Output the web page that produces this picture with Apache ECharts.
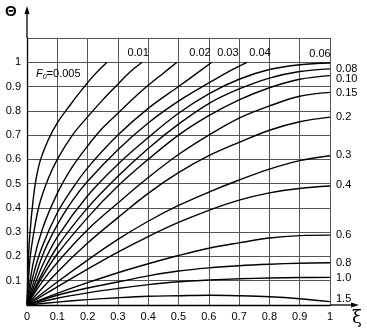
<!DOCTYPE html>
<html><head><meta charset="utf-8">
<script src="https://cdn.jsdelivr.net/npm/echarts@6/dist/echarts.min.js"></script>
<style>html,body{margin:0;padding:0;background:#fff}#c{width:367px;height:329px}</style>
</head><body><div id="c"></div>
<script>
// Tick values
const xTicks = [0, 0.1, 0.2, 0.3, 0.4, 0.5, 0.6, 0.7, 0.8, 0.9, 1];
const yTicks = [0.1, 0.2, 0.3, 0.4, 0.5, 0.6, 0.7, 0.8, 0.9, 1];

// Curve names (Fourier number F0)
const f0Names = ['0.005','0.01','0.02','0.03','0.04','0.06','0.08','0.10','0.15','0.2','0.3','0.4','0.6','0.8','1.0','1.5'];

// Curves: [xi, Theta]
const c0005 = [[0,0],[0.005,0.2],[0.01,0.3],[0.02,0.43],[0.03,0.52],[0.045,0.6],[0.07,0.68],[0.1,0.75],[0.14,0.82],[0.18,0.885],[0.22,0.945],[0.264,1]];
const c001 = [[0,0],[0.01,0.19],[0.02,0.28],[0.04,0.41],[0.07,0.52],[0.1,0.6],[0.15,0.7],[0.2,0.775],[0.25,0.845],[0.3,0.91],[0.34,0.96],[0.38,1]];
const c002 = [[0,0],[0.02,0.17],[0.05,0.31],[0.1,0.46],[0.15,0.57],[0.2,0.655],[0.25,0.73],[0.3,0.79],[0.35,0.85],[0.4,0.905],[0.45,0.955],[0.495,1]];
const c003 = [[0,0],[0.02,0.12],[0.05,0.24],[0.1,0.38],[0.15,0.48],[0.2,0.565],[0.3,0.7],[0.4,0.81],[0.5,0.9],[0.55,0.945],[0.61,1]];
const c004 = [[0,0],[0.05,0.2],[0.1,0.33],[0.15,0.43],[0.2,0.51],[0.3,0.64],[0.4,0.75],[0.5,0.84],[0.6,0.915],[0.67,0.965],[0.726,1]];
const c006 = [[0,0],[0.05,0.16],[0.1,0.28],[0.2,0.45],[0.3,0.58],[0.4,0.69],[0.5,0.79],[0.6,0.87],[0.7,0.93],[0.8,0.97],[0.9,0.99],[1,0.997]];
const c008 = [[0,0],[0.05,0.13],[0.1,0.24],[0.2,0.4],[0.3,0.53],[0.4,0.645],[0.5,0.745],[0.6,0.83],[0.7,0.89],[0.8,0.935],[0.9,0.962],[1,0.973]];
const c010 = [[0,0],[0.05,0.115],[0.1,0.21],[0.2,0.36],[0.3,0.49],[0.4,0.6],[0.5,0.7],[0.6,0.78],[0.7,0.845],[0.8,0.895],[0.9,0.93],[1,0.945]];
const c015 = [[0,0],[0.05,0.095],[0.1,0.175],[0.2,0.31],[0.3,0.42],[0.4,0.525],[0.5,0.62],[0.6,0.7],[0.7,0.77],[0.8,0.82],[0.9,0.86],[1,0.876]];
const c020 = [[0,0],[0.1,0.135],[0.2,0.255],[0.3,0.36],[0.4,0.46],[0.5,0.545],[0.6,0.615],[0.7,0.67],[0.8,0.72],[0.9,0.755],[1,0.774]];
const c030 = [[0,0],[0.1,0.095],[0.2,0.185],[0.3,0.27],[0.4,0.345],[0.5,0.41],[0.6,0.465],[0.7,0.515],[0.8,0.56],[0.9,0.595],[1,0.615]];
const c040 = [[0,0],[0.1,0.075],[0.2,0.148],[0.3,0.218],[0.4,0.282],[0.5,0.34],[0.6,0.39],[0.7,0.432],[0.8,0.462],[0.9,0.48],[1,0.49]];
const c060 = [[0,0],[0.1,0.048],[0.2,0.092],[0.3,0.133],[0.4,0.17],[0.5,0.204],[0.6,0.234],[0.7,0.256],[0.8,0.276],[0.9,0.286],[1,0.288]];
const c080 = [[0,0],[0.1,0.04],[0.2,0.07],[0.3,0.095],[0.4,0.12],[0.5,0.14],[0.6,0.153],[0.7,0.162],[0.8,0.168],[0.9,0.172],[1,0.174]];
const c100 = [[0,0],[0.1,0.028],[0.2,0.05],[0.3,0.068],[0.4,0.084],[0.5,0.096],[0.6,0.103],[0.7,0.108],[0.8,0.111],[0.9,0.113],[1,0.114]];
const c150 = [[0,0],[0.1,0.012],[0.2,0.022],[0.3,0.03],[0.4,0.036],[0.5,0.038],[0.6,0.04],[0.7,0.038],[0.8,0.034],[0.9,0.026],[1,0.014]];

const curves = [c0005,c001,c002,c003,c004,c006,c008,c010,c015,c020,c030,c040,c060,c080,c100,c150];

const FONT = 'Liberation Sans';
// label placement per curve (style, not data)
const labelStyle = [
  {align:'left', offset:[-79,12], rich:true},
  {align:'center', offset:[-12,-9]},
  {align:'center', offset:[15,-9]},
  {align:'center', offset:[8,-9]},
  {align:'center', offset:[5,-9]},
  {align:'center', offset:[-18,-9]},
  {align:'left', offset:[-2,0]},
  {align:'left', offset:[-2,3]},
  {align:'left', offset:[-2,1]},
  {align:'left', offset:[-2,0]},
  {align:'left', offset:[-2,-1]},
  {align:'left', offset:[-2,-1]},
  {align:'left', offset:[-2,0]},
  {align:'left', offset:[-2,0]},
  {align:'left', offset:[-2,1]},
  {align:'left', offset:[-2,-3]}
];

const series = curves.map((d, i) => {
  const ls = labelStyle[i];
  return {
    name: f0Names[i],
    type: 'line',
    data: d,
    smooth: 0.35,
    showSymbol: false,
    symbol: 'none',
    lineStyle: {color: '#000', width: 1.4},
    silent: true,
    endLabel: {
      show: true,
      color: '#000',
      fontFamily: FONT,
      fontSize: 11,
      align: ls.align,
      verticalAlign: 'middle',
      offset: ls.offset,
      formatter: ls.rich ? '{f|F}{s|0}{n|=0.005}' : f0Names[i],
      rich: ls.rich ? {
        f: {fontStyle: 'italic', fontFamily: FONT, fontSize: 11, color: '#000'},
        s: {fontStyle: 'italic', fontFamily: FONT, fontSize: 7, color: '#000', verticalAlign: 'bottom', padding: [6,0,0,0]},
        n: {fontFamily: FONT, fontSize: 11, color: '#000'}
      } : undefined
    }
  };
});

const chart = echarts.init(document.getElementById('c'), null, {renderer: 'canvas'});
const fmt = v => (Math.abs(v - 1) < 1e-6 ? '1' : (Math.abs(v) < 1e-6 ? '0' : v.toFixed(1)));
chart.setOption({
  animation: false,
  backgroundColor: '#fff',
  grid: {left: 27, right: 37, top: 38, bottom: 24, containLabel: false},
  xAxis: {
    type: 'value', min: 0, max: 1, interval: 0.1,
    axisLine: {show: true, lineStyle: {color: '#000', width: 1.3}},
    axisTick: {show: false},
    splitLine: {show: true, lineStyle: {color: '#555', width: 1}},
    axisLabel: {
      color: '#000', fontFamily: FONT, fontSize: 11, margin: 6,
      formatter: v => xTicks.some(t => Math.abs(t - v) < 1e-6) ? fmt(v) : ''
    }
  },
  yAxis: {
    type: 'value', min: 0, max: 1.1, interval: 0.1,
    axisLine: {show: true, lineStyle: {color: '#000', width: 1.3}},
    axisTick: {show: false},
    splitLine: {show: true, lineStyle: {color: '#555', width: 1}},
    axisLabel: {
      color: '#000', fontFamily: FONT, fontSize: 11, margin: 6,
      formatter: v => yTicks.some(t => Math.abs(t - v) < 1e-6) ? fmt(v) : ''
    }
  },
  series: series
});

// Axis extensions with arrowheads and axis titles
const pO = chart.convertToPixel({gridIndex: 0}, [0, 0]);
const pTop = chart.convertToPixel({gridIndex: 0}, [0, 1.1]);
const pRight = chart.convertToPixel({gridIndex: 0}, [1, 0]);
const yTipY = 6, xTipX = 359;
chart.setOption({
  graphic: [
    {type: 'line', shape: {x1: pO[0], y1: pTop[1], x2: pO[0], y2: yTipY + 6}, style: {stroke: '#000', lineWidth: 1.3}},
    {type: 'polygon', shape: {points: [[pO[0], yTipY], [pO[0] - 2.5, yTipY + 8], [pO[0] + 2.5, yTipY + 8]]}, style: {fill: '#000'}},
    {type: 'line', shape: {x1: pRight[0], y1: pO[1], x2: xTipX - 6, y2: pO[1]}, style: {stroke: '#000', lineWidth: 1.3}},
    {type: 'polygon', shape: {points: [[xTipX, pO[1]], [xTipX - 8, pO[1] - 2.5], [xTipX - 8, pO[1] + 2.5]]}, style: {fill: '#000'}},
    {type: 'text', left: 5, top: 4, style: {text: 'Θ', font: 'bold 15px "Liberation Sans"', fill: '#000'}},
    {type: 'text', left: 352, top: 309, style: {text: 'ξ', font: '18px "DejaVu Serif"', fill: '#000'}}
  ]
});
</script>
</body></html>
